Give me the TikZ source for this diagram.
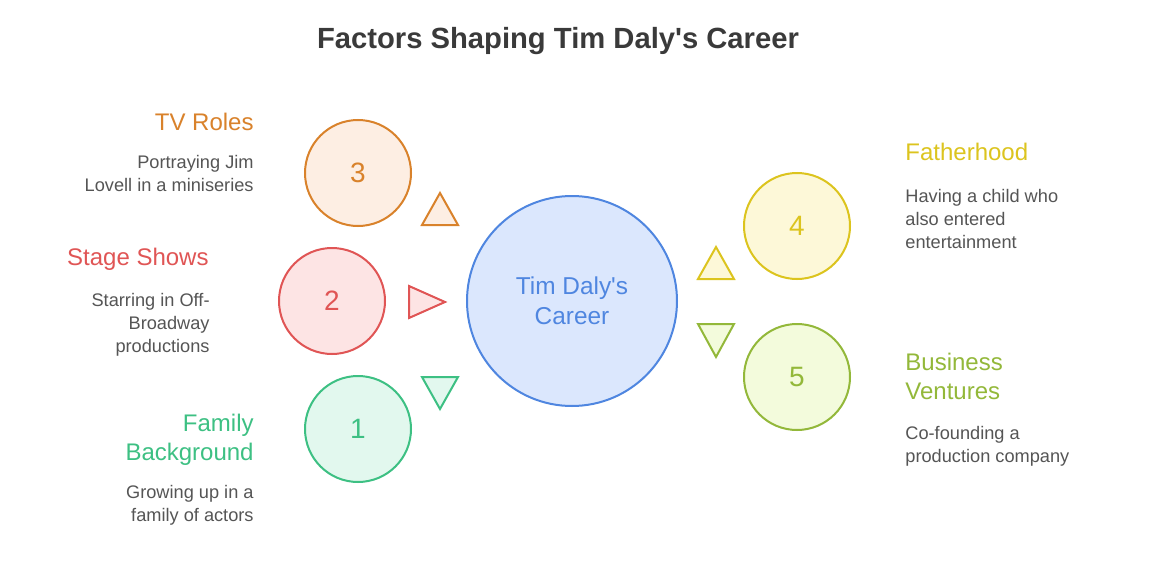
\documentclass[tikz,border=0pt]{standalone}
\usepackage{fontspec}
\setmainfont{Liberation Sans}
\usepackage{xcolor}
\usepackage{tikz}
\usetikzlibrary{positioning}

\definecolor{orangeline}{HTML}{D9822B}
\definecolor{orangefill}{HTML}{FDEEE3}
\definecolor{redline}{HTML}{E05555}
\definecolor{redfill}{HTML}{FDE4E4}
\definecolor{greenline}{HTML}{3DC083}
\definecolor{greenfill}{HTML}{E2F8EE}
\definecolor{yellowline}{HTML}{DCC41E}
\definecolor{yellowfill}{HTML}{FDF8D8}
\definecolor{limeline}{HTML}{93B83A}
\definecolor{limefill}{HTML}{F3FBDC}
\definecolor{blueline}{HTML}{4F86E0}
\definecolor{bluefill}{HTML}{DBE7FD}
\definecolor{bodytext}{HTML}{555555}
\definecolor{titletext}{HTML}{3A3A3A}

\begin{document}
\begin{tikzpicture}[x=0.5pt,y=-0.5pt,
    factor/.style={circle,line width=1pt,minimum size=53pt,inner sep=0pt,font=\fontsize{14}{16}\selectfont},
    head/.style={font=\fontsize{12}{14.5}\selectfont,inner sep=0pt},
    body/.style={font=\fontsize{9.1}{11.5}\selectfont,text=bodytext,inner sep=0pt},
    tri/.style={line width=1pt,line join=miter}]
            \useasboundingbox [fill=white] (0,0) rectangle (1153,578);
            \node [font=\bfseries\fontsize{14.6}{17}\selectfont,text=titletext] (title) at (558,41) {Factors Shaping Tim Daly\textquotesingle s Career};
            
            % centre
            \node [circle,line width=1pt,minimum size=105pt,draw=blueline,fill=bluefill,text=blueline,
                   align=center,font=\fontsize{12.2}{15}\selectfont] (career) at (572,301) {Tim Daly\textquotesingle s\\Career};
            
            % left side
            \node [factor,draw=orangeline,fill=orangefill,text=orangeline] (tv) at (358,173) {3};
            \node [factor,draw=redline,fill=redfill,text=redline] (stage) at (332,301) {2};
            \node [factor,draw=greenline,fill=greenfill,text=greenline] (family) at (358,429) {1};
            
            % right side
            \node [factor,draw=yellowline,fill=yellowfill,text=yellowline] (father) at (797,226) {4};
            \node [factor,draw=limeline,fill=limefill,text=limeline] (business) at (797,377) {5};
            
            % pointers
            \filldraw [tri,draw=orangeline,fill=orangefill] (440,193) -- (458,225) -- (422,225) -- cycle;
            \filldraw [tri,draw=redline,fill=redfill] (409,286) -- (445,302) -- (409,318) -- cycle;
            \filldraw [tri,draw=greenline,fill=greenfill] (422,377) -- (458,377) -- (440,409) -- cycle;
            \filldraw [tri,draw=yellowline,fill=yellowfill] (716,247) -- (734,279) -- (698,279) -- cycle;
            \filldraw [tri,draw=limeline,fill=limefill] (698,324) -- (734,324) -- (716,357) -- cycle;
            
            % labels
            \node [head,text=orangeline,anchor=base east] (tvhead) at (254,130) {TV Roles};
            \node [body,align=right,anchor=north east] (tvtext) at (254,155) {Portraying Jim\\Lovell in a miniseries};
            \node [head,text=redline,anchor=base east] (stagehead) at (209,265) {Stage Shows};
            \node [body,align=right,anchor=north east] (stagetext) at (210,293) {Starring in Off-\\Broadway\\productions};
            \node [head,text=greenline,align=right,anchor=north east] (familyhead) at (254,414) {Family\\Background};
            \node [body,align=right,anchor=north east] (familytext) at (254,485) {Growing up in a\\family of actors};
            
            \node [head,text=yellowline,anchor=base west] (fatherhead) at (905,160) {Fatherhood};
            \node [body,align=left,anchor=north west] (fathertext) at (905,189) {Having a child who\\also entered\\entertainment};
            \node [head,text=limeline,align=left,anchor=north west] (businesshead) at (905,353) {Business\\Ventures};
            \node [body,align=left,anchor=north west] (businesstext) at (905,426) {Co-founding a\\production company};
        \end{tikzpicture}
\end{document}
